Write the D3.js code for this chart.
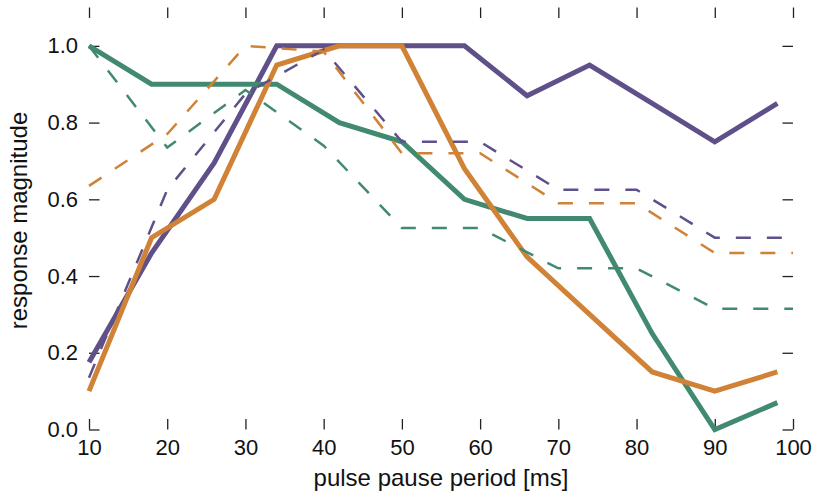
<!DOCTYPE html>
<html>
<head>
<meta charset="utf-8">
<script src="https://cdn.jsdelivr.net/npm/d3@7"></script>
<style>
  body { margin: 0; background: #fff; }
  text { font-family: "Liberation Sans", Arial, sans-serif; fill: #111; }
</style>
</head>
<body>
<div class="chart"></div>
<script>
// pulse pause periods, measured (solid) and model (dashed)
const periodsMeasured = [10, 18, 26, 34, 42, 50, 58, 66, 74, 82, 90, 98];
const periodsModel = [10, 20, 30, 40, 50, 60, 70, 80, 90, 100];

const measuredPurple = [0.175, 0.46, 0.695, 1.0, 1.0, 1.0, 1.0, 0.87, 0.95, 0.85, 0.75, 0.85];
const measuredGreen = [1.0, 0.9, 0.9, 0.9, 0.8, 0.75, 0.6, 0.55, 0.55, 0.25, 0.0, 0.07];
const measuredOrange = [0.1, 0.5, 0.6, 0.95, 1.0, 1.0, 0.68, 0.45, 0.3, 0.15, 0.1, 0.15];

const modelPurple = [0.135, 0.625, 0.875, 0.99, 0.75, 0.75, 0.625, 0.625, 0.5, 0.5];
const modelGreen = [1.0, 0.735, 0.885, 0.74, 0.525, 0.525, 0.42, 0.42, 0.315, 0.315];
const modelOrange = [0.635, 0.77, 1.0, 0.985, 0.72, 0.72, 0.59, 0.59, 0.46, 0.46];

const xTicks = [10, 20, 30, 40, 50, 60, 70, 80, 90, 100];
const yTicks = [0, 0.2, 0.4, 0.6, 0.8, 1.0];

const purple = '#5f5089';
const green = '#418a6f';
const orange = '#d08236';

const width = 814;
const height = 495;
const margin = {top: 7.5, right: 21, bottom: 65.5, left: 89};

const svg = d3.select('.chart')
    .append('svg')
    .attr('width', width)
    .attr('height', height);

const x = d3.scaleLinear()
    .domain([10, 100])
    .range([margin.left, width - margin.right]);

const y = d3.scaleLinear()
    .domain([0, 1.1])
    .range([height - margin.bottom, margin.top]);

const line = d3.line()
    .x(d => x(d[0]))
    .y(d => y(d[1]));

// axes: inward ticks on all four sides, no frame
const tickLen = 10.5;

svg.append('g')
    .attr('transform', `translate(0,${y(0)})`)
    .call(d3.axisBottom(x).tickValues(xTicks).tickSizeInner(-tickLen).tickSizeOuter(0).tickPadding(10))
    .attr('class', 'axis');

svg.append('g')
    .attr('transform', `translate(0,${y(1.1)})`)
    .call(d3.axisTop(x).tickValues(xTicks).tickSizeInner(-tickLen).tickSizeOuter(0).tickFormat(''))
    .attr('class', 'axis');

svg.append('g')
    .attr('transform', `translate(${x(10)},0)`)
    .call(d3.axisLeft(y).tickValues(yTicks).tickSizeInner(-tickLen).tickSizeOuter(0).tickPadding(11).tickFormat(d3.format('.1f')))
    .attr('class', 'axis');

svg.append('g')
    .attr('transform', `translate(${x(100)},0)`)
    .call(d3.axisRight(y).tickValues(yTicks).tickSizeInner(-tickLen).tickSizeOuter(0).tickFormat(''))
    .attr('class', 'axis');

svg.selectAll('.axis .domain').remove();
svg.selectAll('.axis line')
    .attr('stroke', '#222')
    .attr('stroke-width', 1.3);
svg.selectAll('.axis text')
    .attr('font-size', 22)
    .attr('font-family', '"Liberation Sans", Arial, sans-serif')
    .attr('fill', '#111');

// measured responses (solid)
const solid = [
    {values: measuredPurple, color: purple},
    {values: measuredGreen, color: green},
    {values: measuredOrange, color: orange}
];

svg.selectAll('.solid')
    .data(solid)
    .enter()
    .append('path')
    .attr('class', 'solid')
    .attr('d', d => line(periodsMeasured.map((p, i) => [p, d.values[i]])))
    .attr('fill', 'none')
    .attr('stroke', d => d.color)
    .attr('stroke-width', 5);

// model responses (dashed)
const dashed = [
    {values: modelPurple, color: purple},
    {values: modelGreen, color: green},
    {values: modelOrange, color: orange}
];

svg.selectAll('.dashed')
    .data(dashed)
    .enter()
    .append('path')
    .attr('class', 'dashed')
    .attr('d', d => line(periodsModel.map((p, i) => [p, d.values[i]])))
    .attr('fill', 'none')
    .attr('stroke', d => d.color)
    .attr('stroke-width', 2.5)
    .attr('stroke-dasharray', '15,16');

// axis titles
svg.append('text')
    .attr('x', (x(10) + x(100)) / 2)
    .attr('y', 486)
    .attr('text-anchor', 'middle')
    .attr('font-size', 24)
    .text('pulse pause period [ms]');

svg.append('text')
    .attr('transform', `translate(27,${(y(0) + y(1.1)) / 2 + 2}) rotate(-90)`)
    .attr('text-anchor', 'middle')
    .attr('font-size', 24)
    .text('response magnitude');
</script>
</body>
</html>
